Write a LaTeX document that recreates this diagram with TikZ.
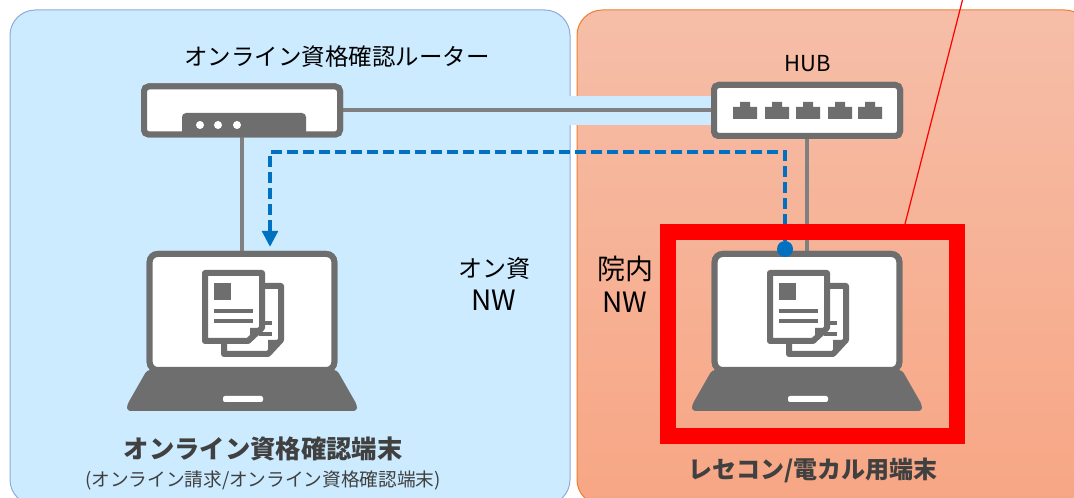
\documentclass[tikz,border=0pt]{standalone}
\usepackage{fontspec}
\setmainfont{Noto Sans CJK JP}
\usetikzlibrary{arrows.meta}
\definecolor{icongray}{HTML}{6E6E6E}
\definecolor{wiregray}{HTML}{808080}
\definecolor{netblue}{HTML}{CCEBFF}
\definecolor{netedge}{HTML}{8FAADC}
\definecolor{hospedge}{HTML}{ED7D31}
\definecolor{hosptop}{HTML}{F6BEA8}
\definecolor{hospbottom}{HTML}{F7A684}
\definecolor{flowblue}{HTML}{0070C0}
\definecolor{textgray}{HTML}{404040}
\tikzset{
    panel/.style={draw, rounded corners=19pt, line width=0.75pt},
    device/.style={draw=icongray, fill=white, line width=4.5pt, rounded corners=3.5pt, inner sep=0pt},
    screen/.style={device, rounded corners=6pt, minimum width=138.5pt, minimum height=87pt},
    wire/.style={draw=wiregray, line width=3pt},
    flow/.style={draw=flowblue, line width=3.2pt, dash pattern=on 8pt off 4pt},
    label/.style={font=\fontsize{17.6}{25}\selectfont, align=center, inner sep=0pt},
    laptop/.pic={
        \fill[icongray, rounded corners=2.5pt] (-95,58) -- (95,58) -- (115,93) -- (115,99) -- (-115,99) -- (-115,93) -- cycle;
        \fill[white, rounded corners=1.5pt] (-19,84) rectangle (21,90);
        \draw[icongray, line width=4.5pt, line join=round] (-37,-39) -- (20,-39) -- (20,16) -- (6,29) -- (-37,29) -- cycle;
        \fill[icongray] (20,16) -- (8,16) -- (8,29) -- (6,29) -- cycle;
        \draw[icongray, line width=4.5pt, line join=round] (23,-26) -- (39,-26) -- (39,28) -- (26,42) -- (-18,42) -- (-18,31);
        \fill[icongray] (39,28) -- (26,28) -- (26,42) -- cycle;
        \fill[icongray] (-28,-29) rectangle (-11,-12);
        \draw[icongray, line width=3pt] (-28,-1) -- (11,-1);
        \draw[icongray, line width=3pt] (-28,9) -- (11,9);
        \draw[icongray, line width=3pt] (23,11) -- (30,11);
        \draw[icongray, line width=3pt] (17,22) -- (30,22);
    }
}
\begin{document}
\begin{tikzpicture}[x=0.75pt, y=-0.75pt]
    \path[use as bounding box, clip] (0,0) rectangle (1074,498);
    \path[panel, draw=netedge, fill=netblue] (10,10) rectangle (570,505);
    \path[panel, draw=hospedge, top color=hosptop, bottom color=hospbottom] (577,10) rectangle (1090,505);
    \fill[netblue] (568,96) rectangle (711,125);
    \node[device, minimum width=147pt, minimum height=36pt] (router) at (242,110.5) {};
    \node[device, minimum width=139.5pt, minimum height=38.25pt] (hub) at (807,110.5) {};
    \node[screen] (pca) at (242,312) {};
    \node[screen] (pcb) at (807,312) {};
    \draw[wire] (router) -- (hub);
    \draw[wire] (router) -- (pca);
    \draw[wire] (hub) -- (pcb);
    \node[device, minimum width=147pt, minimum height=36pt] at (242,110.5) {};
    \node[device, minimum width=139.5pt, minimum height=38.25pt] at (807,110.5) {};
    \node[screen] at (242,312) {};
    \node[screen] at (807,312) {};
    \fill[icongray, rounded corners=3pt] (182,137) -- (182,113) -- (306,113) -- (306,137) -- cycle;
    \foreach \x in {200,218,237}
        \fill[white] (\x,125) circle (3pt);
    \foreach \x in {745,777,808,840,870}
        \fill[icongray] (\x-12,119) -- (\x-12,107) -- (\x-5,107) -- (\x-5,102) -- (\x+5,102) -- (\x+5,107) -- (\x+12,107) -- (\x+12,119) -- cycle;
    \pic at (pca) {laptop};
    \pic at (pcb) {laptop};
    \node[circle, fill=flowblue, minimum size=12pt, inner sep=0pt] (dot) at (785,249) {};
    \coordinate (bendb) at (785,152);
    \coordinate (benda) at (270,152);
    \coordinate (tip) at (270,247);
    \draw[flow, -{Triangle[length=12pt, width=11.5pt]}] (dot) -- (bendb) -- (benda) -- (tip);
    \draw[red, line width=12pt] (668,232) rectangle (957,436);
    \coordinate (callout) at (963,-2);
    \coordinate (calloutb) at (905,224);
    \draw[red, line width=0.9pt] (calloutb) -- (callout);
    \node[label] (routerlabel) at (337,57) {オンライン資格確認ルーター};
    \node[label, font=\fontsize{16.5}{20}\selectfont] (hublabel) at (808,64) {HUB};
    \node[label, font=\fontsize{21}{25}\selectfont] (onsnw) at (494,284) {{\fontsize{18}{25}\selectfont オン資}\\NW};
    \node[label, font=\fontsize{21}{25}\selectfont] (innw) at (625,284) {院内\\NW};
    \node[label, text=textgray, font=\fontsize{19}{23}\bfseries\selectfont] (pcalabel) at (263,449) {オンライン資格確認端末};
    \node[label, text=textgray, font=\fontsize{14}{17}\selectfont] (pcasub) at (263,480) {(オンライン請求/オンライン資格確認端末)};
    \node[label, text=textgray, font=\fontsize{18}{22}\bfseries\selectfont] (pcblabel) at (813,470) {レセコン/電カル用端末};
\end{tikzpicture}
\end{document}
